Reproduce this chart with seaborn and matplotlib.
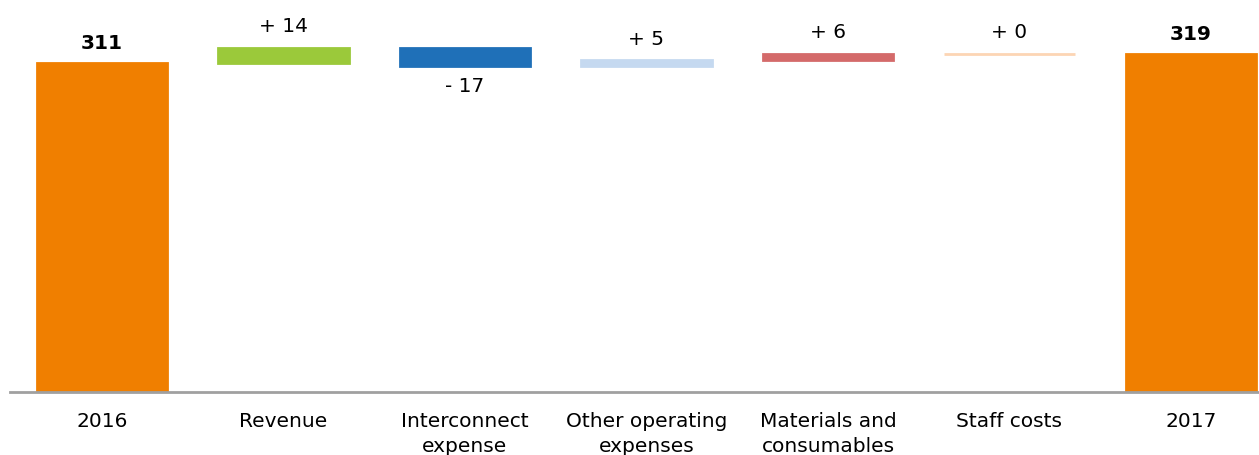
import numpy as np
import pandas as pd
import matplotlib
matplotlib.use("Agg")
import matplotlib.pyplot as plt
import seaborn as sns

# Waterfall: EBITDA bridge 2016 -> 2017
categories = ["2016", "Revenue", "Interconnect\nexpense", "Other operating\nexpenses",
              "Materials and\nconsumables", "Staff costs", "2017"]
start_total = 311
deltas = [14, -17, 5, 6, 0]
end_total = 319
colors = ["#F07F00", "#9BC93A", "#1F70B8", "#C5D9F0", "#D46A6A", "#FCD5B4", "#F07F00"]

# bar heights and floating bases
heights = [start_total] + deltas + [end_total]
running = np.cumsum([start_total] + deltas)
bottoms = [0] + list(running[:-1]) + [0]
is_total = [True] + [False] * len(deltas) + [True]

df = pd.DataFrame({"category": categories, "value": heights})

sns.set_theme(style="white")
plt.rcParams["font.family"] = ["DejaVu Sans"]

fig = plt.figure(figsize=(12.59, 4.56), dpi=100)
ax = fig.add_axes([10 / 1259, 63 / 456, 1 - 10 / 1259, 393 / 456])

sns.barplot(data=df, x="category", y="value", order=categories, width=0.72,
            bottom=np.array(bottoms, dtype=float), ax=ax, saturation=1,
            color=colors[0], errorbar=None)

# colour each step of the bridge
for patch, c in zip(ax.patches, colors):
    patch.set_facecolor(c)
    patch.set_edgecolor(c)
    patch.set_linewidth(2)

# value labels
for i, (h, b, tot) in enumerate(zip(heights, bottoms, is_total)):
    if tot:
        ax.text(i, b + h + 10, f"{h}", ha="center", va="bottom", fontsize=14.5,
                fontweight="bold", color="black")
    elif h >= 0:
        ax.text(i, b + h + 12, f"+ {h}", ha="center", va="bottom", fontsize=14.5,
                color="black")
    else:
        ax.text(i, b + h - 10, f"- {abs(h)}", ha="center", va="top", fontsize=14.5,
                color="black")

ax.set_xlim(-0.507, 6.375)
ax.set_ylim(0, 371)
ax.set_xlabel("")
ax.set_ylabel("")
ax.set_yticks([])
for side in ["top", "right", "left"]:
    ax.spines[side].set_visible(False)
ax.spines["bottom"].set_color("#A0A0A0")
ax.spines["bottom"].set_linewidth(2)
ax.tick_params(axis="x", length=0, pad=14, labelsize=14.5, colors="black")
for lbl in ax.get_xticklabels():
    lbl.set_linespacing(1.4)

fig.savefig("out.png", dpi=100)
